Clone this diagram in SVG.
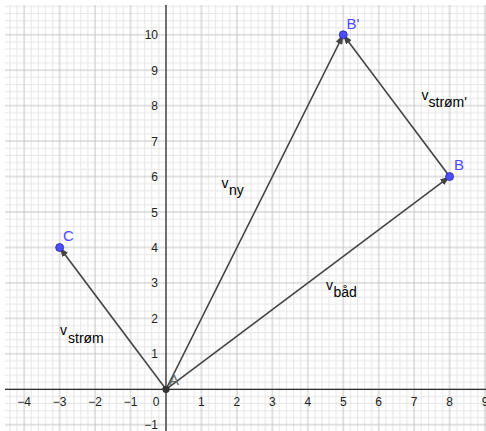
<svg xmlns="http://www.w3.org/2000/svg" width="486" height="431" viewBox="0 0 486 431">
<style>
text{font-family:"Liberation Sans",Arial,sans-serif}
.tick{font-size:12px;fill:#222}
.tx{text-anchor:middle}
.ty{text-anchor:end}
.vl{font-size:14px;fill:#000}
.pl{font-size:15px;fill:#4d4dff}
.vec{stroke:#444;stroke-width:1.6;fill:none;marker-end:url(#ah)}
.pt{fill:#4d4dff;stroke:#2a2a99;stroke-width:0.8}
</style>
<defs>
<pattern id="grid" patternUnits="userSpaceOnUse" x="163" y="386.3" width="35.45" height="35.45">
<path d="M10.09,0V35.45M17.18,0V35.45M24.27,0V35.45M31.36,0V35.45M0,10.09H35.45M0,17.18H35.45M0,24.27H35.45M0,31.36H35.45" stroke="#e6e6e6" stroke-width="1"/>
<path d="M3,0V35.45M0,3H35.45" stroke="#c4c4c4" stroke-width="1"/>
</pattern>
<marker id="ah" markerUnits="userSpaceOnUse" viewBox="0 0 10 7" refX="9.5" refY="3.5" markerWidth="10" markerHeight="7" orient="auto">
<path d="M0,0L10,3.5L0,7z" fill="#444"/>
</marker>
</defs>
<rect width="486" height="431" fill="#fff"/>
<rect x="5" y="5" width="481" height="426" fill="url(#grid)"/>
<g id="axes" stroke="#333" stroke-width="1.3">
<line x1="5" y1="389.3" x2="486" y2="389.3"/>
<line x1="166" y1="5" x2="166" y2="431"/>
</g>
<g id="xlabels" class="tick tx">
<text x="24.2" y="405.5">−4</text>
<text x="59.65" y="405.5">−3</text>
<text x="95.1" y="405.5">−2</text>
<text x="130.55" y="405.5">−1</text>
<text x="156" y="405.5">0</text>
<text x="201.45" y="405.5">1</text>
<text x="236.9" y="405.5">2</text>
<text x="272.35" y="405.5">3</text>
<text x="307.8" y="405.5">4</text>
<text x="343.25" y="405.5">5</text>
<text x="378.7" y="405.5">6</text>
<text x="414.15" y="405.5">7</text>
<text x="449.6" y="405.5">8</text>
<text x="485.05" y="405.5">9</text>
</g>
<g id="ylabels" class="tick ty">
<text x="158" y="429.3">−1</text>
<text x="158" y="358.3">1</text>
<text x="158" y="322.9">2</text>
<text x="158" y="287.4">3</text>
<text x="158" y="252">4</text>
<text x="158" y="216.5">5</text>
<text x="158" y="181">6</text>
<text x="158" y="145.6">7</text>
<text x="158" y="110.1">8</text>
<text x="158" y="74.7">9</text>
<text x="158" y="39.2">10</text>
</g>
<g id="connectors">
<line class="vec" x1="166" y1="389.3" x2="59.65" y2="247.5"/>
<line class="vec" x1="166" y1="389.3" x2="449.6" y2="176.6"/>
<line class="vec" x1="166" y1="389.3" x2="343.25" y2="34.8"/>
<line class="vec" x1="449.6" y1="176.6" x2="343.25" y2="34.8"/>
</g>
<g id="label-vstrom"><text class="vl" x="60" y="334.5">v<tspan x="68" y="343">strøm</tspan></text></g>
<g id="label-vny"><text class="vl" x="221.5" y="188">v<tspan x="229" y="194.5">ny</tspan></text></g>
<g id="label-vbad"><text class="vl" x="326" y="290">v<tspan x="333.5" y="296.5">båd</tspan></text></g>
<g id="label-vstrom2"><text class="vl" x="421.5" y="100">v<tspan x="428.5" y="106.5">strøm'</tspan></text></g>
<g id="A"><circle cx="166" cy="389.3" r="3.6" fill="#333"/><text x="169" y="384.5" font-size="15" fill="#666">A</text></g>
<g id="C"><circle class="pt" cx="59.65" cy="247.5" r="4"/><text class="pl" x="63" y="240.5">C</text></g>
<g id="B"><circle class="pt" cx="449.6" cy="176.6" r="4"/><text class="pl" x="454" y="170">B</text></g>
<g id="Bp"><circle class="pt" cx="343.25" cy="34.8" r="4"/><text class="pl" x="346.5" y="28.5">B'</text></g>
</svg>
